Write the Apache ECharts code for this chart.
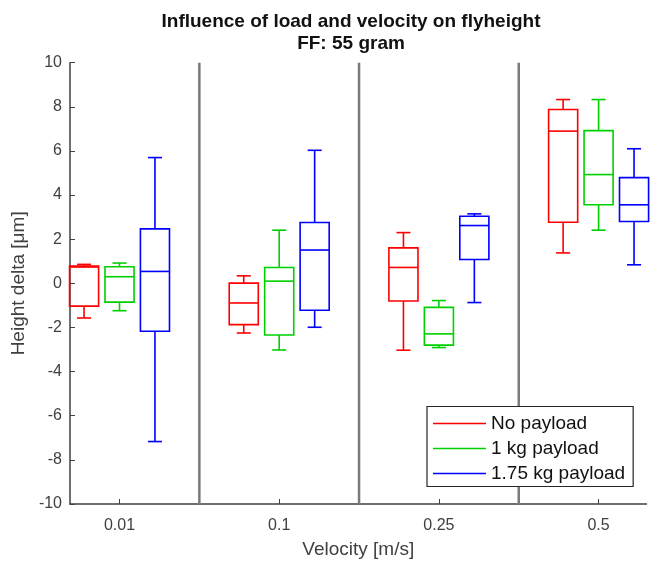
<!DOCTYPE html>
<html>
<head>
<meta charset="utf-8">
<script src="https://cdn.jsdelivr.net/npm/echarts@6/dist/echarts.min.js"></script>
<style>html,body{margin:0;padding:0;background:#fff;}#c{width:650px;height:564px;}</style>
</head>
<body>
<div id="c"></div>
<script>
// Categories (velocity in m/s)
const categories = ['0.01', '0.1', '0.25', '0.5'];
// Box statistics per category: [min, Q1, median, Q3, max]
const noPayload = [
  [-1.57, -1.03, 0.74, 0.78, 0.86],
  [-2.25, -1.87, -0.89, 0.01, 0.34],
  [-3.03, -0.80, 0.72, 1.61, 2.30],
  [1.38, 2.77, 6.90, 7.88, 8.33]
];
const payload1kg = [
  [-1.24, -0.85, 0.30, 0.75, 0.92],
  [-3.02, -2.34, 0.10, 0.72, 2.41],
  [-2.91, -2.80, -2.29, -1.09, -0.78],
  [2.41, 3.56, 4.93, 6.92, 8.33]
];
const payload175kg = [
  [-7.17, -2.17, 0.54, 2.47, 5.70],
  [-1.99, -1.22, 1.51, 2.76, 6.03],
  [-0.87, 1.08, 2.62, 3.04, 3.15],
  [0.84, 2.80, 3.56, 4.79, 6.10]
];
const seriesNames = ['No payload', '1 kg payload', '1.75 kg payload'];
const yTicks = [-10, -8, -6, -4, -2, 0, 2, 4, 6, 8, 10];
const separators = [1.5, 2.5, 3.5];

const colors = ['#ff0000', '#00d000', '#0000ff'];
const offsets = [-0.222, 0, 0.222];
const boxHalf = 0.091, capHalf = 0.044;

function boxRender(offset, color) {
  return function (params, api) {
    const x = api.value(0) + offset;
    const mn = api.value(1), q1 = api.value(2), md = api.value(3), q3 = api.value(4), mx = api.value(5);
    const tl = api.coord([x - boxHalf, q3]);
    const br = api.coord([x + boxHalf, q1]);
    const c = api.coord([x, md]);
    const cMax = api.coord([x, mx]);
    const cMin = api.coord([x, mn]);
    const capL = api.coord([x - capHalf, mx])[0];
    const capR = api.coord([x + capHalf, mx])[0];
    const st = { stroke: color, lineWidth: 1.6, fill: null };
    return {
      type: 'group',
      children: [
        { type: 'line', shape: { x1: cMax[0], y1: cMax[1], x2: cMax[0], y2: tl[1] }, style: st },
        { type: 'line', shape: { x1: cMin[0], y1: br[1], x2: cMin[0], y2: cMin[1] }, style: st },
        { type: 'line', shape: { x1: capL, y1: cMax[1], x2: capR, y2: cMax[1] }, style: st },
        { type: 'line', shape: { x1: capL, y1: cMin[1], x2: capR, y2: cMin[1] }, style: st },
        { type: 'rect', shape: { x: tl[0], y: tl[1], width: br[0] - tl[0], height: br[1] - tl[1] }, style: st },
        { type: 'line', shape: { x1: tl[0], y1: c[1], x2: br[0], y2: c[1] }, style: st }
      ]
    };
  };
}

function toData(arr) {
  return arr.map((d, i) => [i + 1].concat(d));
}

const allSets = [noPayload, payload1kg, payload175kg];
const series = [{
  type: 'custom',
  name: 'sep',
  silent: true,
  data: separators.map(s => [s]),
  renderItem: function (params, api) {
    const a = api.coord([api.value(0), yTicks[yTicks.length - 1]]);
    const b = api.coord([api.value(0), yTicks[0]]);
    return { type: 'line', shape: { x1: a[0], y1: a[1], x2: b[0], y2: b[1] }, style: { stroke: '#7a7a7a', lineWidth: 2.5 } };
  },
  z: 1
}];
allSets.forEach((set, k) => {
  series.push({
    type: 'custom',
    name: seriesNames[k],
    data: toData(set),
    itemStyle: { color: colors[k] },
    renderItem: boxRender(offsets[k], colors[k]),
    encode: { x: 0, y: [1, 2, 3, 4, 5] },
    z: 3
  });
});

const FONT = 'Liberation Sans, Arial, sans-serif';
const chart = echarts.init(document.getElementById('c'));
chart.setOption({
  backgroundColor: '#ffffff',
  animation: false,
  textStyle: { fontFamily: FONT },
  title: {
    text: 'Influence of load and velocity on flyheight\nFF: 55 gram',
    left: 346,
    textAlign: 'center',
    top: 6,
    textStyle: { fontSize: 19, fontWeight: 'bold', color: '#111', lineHeight: 21.6, fontFamily: FONT }
  },
  legend: {
    data: seriesNames.map(n => ({ name: n, icon: 'rect' })),
    orient: 'vertical',
    left: 427,
    top: 406.5,
    itemWidth: 53,
    itemHeight: 1.5,
    itemGap: 5,
    padding: [7, 8, 3, 6],
    borderColor: '#262626',
    borderWidth: 1.2,
    backgroundColor: '#ffffff',
    textStyle: { fontSize: 19, color: '#111', lineHeight: 20, fontFamily: FONT },
    z: 10
  },
  grid: { left: 70, right: 3.5, top: 62.7, bottom: 59.5, containLabel: false },
  xAxis: {
    type: 'value',
    min: 0.69,
    max: 4.30,
    name: 'Velocity [m/s]',
    nameLocation: 'middle',
    nameGap: 36,
    nameTextStyle: { fontSize: 19, color: '#404040', fontFamily: FONT },
    axisLine: { show: true, onZero: false, lineStyle: { color: '#404040', width: 1.5 } },
    axisTick: { show: true, inside: true, length: 5, customValues: [1, 2, 3, 4], lineStyle: { color: '#404040' } },
    axisLabel: { customValues: [1, 2, 3, 4], formatter: v => categories[Math.round(v) - 1], fontSize: 16, color: '#404040', margin: 14, fontFamily: FONT },
    splitLine: { show: false }
  },
  yAxis: {
    type: 'value',
    min: yTicks[0],
    max: yTicks[yTicks.length - 1],
    interval: 2,
    name: 'Height delta [μm]',
    nameLocation: 'middle',
    nameGap: 41,
    nameTextStyle: { fontSize: 19, color: '#404040', fontFamily: FONT },
    axisLine: { show: true, onZero: false, lineStyle: { color: '#404040', width: 1.5 } },
    axisTick: { show: true, inside: true, length: 5, lineStyle: { color: '#404040' } },
    axisLabel: { fontSize: 16, color: '#404040', margin: 8, fontFamily: FONT },
    splitLine: { show: false }
  },
  series: series
});
</script>
</body>
</html>
